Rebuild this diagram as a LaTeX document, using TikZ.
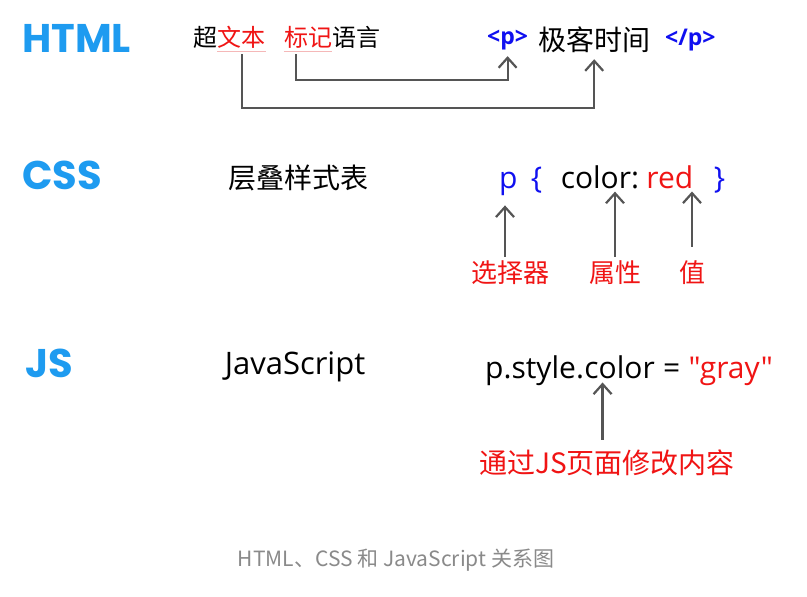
\documentclass[tikz,border=0pt]{standalone}
\usepackage{fontspec}
\setmainfont{Open Sans}
\newfontfamily\cjkfont{Noto Sans CJK SC}
\newfontfamily\langfont{Poppins}
\newfontfamily\codefont{Open Sans}
\usetikzlibrary{arrows.meta,positioning}
\definecolor{langblue}{HTML}{1E9BF0}
\definecolor{tagblue}{HTML}{1010F0}
\definecolor{notered}{HTML}{F01414}
\definecolor{pencil}{HTML}{555555}
\definecolor{captiongray}{HTML}{8A8A8A}
\definecolor{linepink}{HTML}{F5B8B8}

\begin{document}
\begin{tikzpicture}[
x=1pt, y=-1pt,
lang/.style={font=\langfont\bfseries\fontsize{40}{40}\selectfont, text=langblue, anchor=west, inner sep=0pt},
cn/.style={font=\cjkfont\fontsize{24}{24}\selectfont, inner sep=0pt},
code/.style={font=\codefont\fontsize{30}{30}\selectfont, inner sep=0pt},
tag/.style={font=\codefont\bfseries\fontsize{23}{23}\selectfont, text=tagblue, inner sep=0pt},
note/.style={font=\cjkfont\fontsize{26}{26}\selectfont, text=notered, inner sep=0pt},
arrow/.style={-{Straight Barb[length=10pt,width=18pt]}, line width=2.2pt, pencil}
]
\path[fill=white] (0,0) rectangle (807,597);
\useasboundingbox (0,0) rectangle (807,597);

% HTML
\node[lang] (html) at (22,38) {HTML};
\node[cn, anchor=west] (chao) at (193,37) {超};
\node[cn, text=notered, right=0pt of chao] (wenben) {文本};
\node[cn, text=notered, right=18pt of wenben] (biaoji) {标记};
\node[cn, right=0pt of biaoji] (yuyan) {语言};
\node[tag, anchor=west] (popen) at (487,40) {<p>};
\node[cn, font=\cjkfont\fontsize{28}{28}\selectfont, anchor=west] (geek) at (538,40) {极客时间};
\node[tag, anchor=west] (pclose) at (665,40) {</p>};
\draw[linepink, line width=1pt] ([yshift=-3pt]wenben.south west) -- ([yshift=-3pt]wenben.south east);
\draw[linepink, line width=1pt] ([yshift=-3pt]biaoji.south west) -- ([yshift=-3pt]biaoji.south east);
\draw[arrow, shorten <=6pt] (wenben.south) -- ++(0,60) -| ([yshift=-6pt]geek.south);
\draw[arrow, shorten <=6pt] ([xshift=-12pt]biaoji.south) -- ++(0,32) -| ([yshift=-6pt]popen.south);

% CSS
\node[lang] (css) at (22,175) {CSS};
\node[cn, font=\cjkfont\fontsize{28}{28}\selectfont] (cengdie) at (298,178) {层叠样式表};
\node[code, text=tagblue, anchor=base west] (sel) at (499,188) {p};
\node[code, text=tagblue, anchor=base west] (lbrace) at ([xshift=13pt]sel.base east) {\{};
\node[code, anchor=base west] (prop) at ([xshift=18pt]lbrace.base east) {color:};
\node[code, text=notered, anchor=base west] (val) at ([xshift=7pt]prop.base east) {red};
\node[code, text=tagblue, anchor=base west] (rbrace) at ([xshift=20pt]val.base east) {\}};
\node[note] (selnote) at (510,273) {选择器};
\node[note] (propnote) at (615,273) {属性};
\node[note] (valnote) at (692,273) {值};
\draw[arrow, shorten <=4pt, shorten >=10pt] (selnote.north -| 505,0) -- (sel.south -| 505,0);
\draw[arrow, shorten <=4pt, shorten >=3pt] (propnote.north) -- (propnote.north |- prop.south);
\draw[arrow, shorten <=14pt, shorten >=3pt] (valnote.north) -- (valnote.north |- val.south);

% JS
\node[lang] (js) at (25,363) {JS};
\node[code, font=\codefont\fontsize{31}{31}\selectfont] (jsname) at (295,367) {JavaScript};
\node[code, anchor=base west] (jsobj) at (485,378) {p.style.};
\node[code, anchor=base west] (jsprop) at (jsobj.base east) {color};
\node[code, anchor=base west] (jsop) at ([xshift=8pt]jsprop.base east) {=};
\node[code, text=notered, anchor=base west] (jsval) at ([xshift=8pt]jsop.base east) {"gray"};
\node[note, font=\cjkfont\fontsize{28}{28}\selectfont] (jsnote) at (607,463) {通过JS页面修改内容};
\draw[arrow, shorten <=10pt, shorten >=4pt] ([xshift=-17pt]jsprop.south |- jsnote.north) -- ([xshift=-17pt]jsprop.south);

% caption
\node[font=\cjkfont\fontsize{21}{21}\selectfont, text=captiongray] (caption) at (396,560) {HTML、CSS 和 JavaScript 关系图};
\end{tikzpicture}
\end{document}
